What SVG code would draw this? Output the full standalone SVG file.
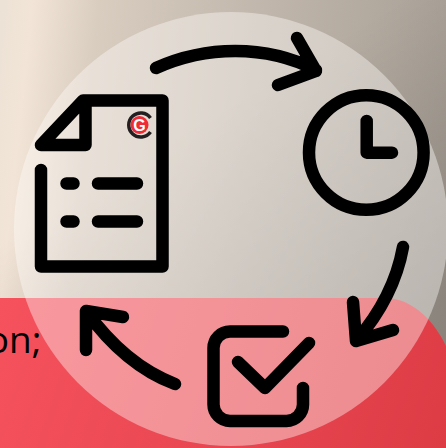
<svg xmlns="http://www.w3.org/2000/svg" width="446" height="448" viewBox="0 0 446 448">
  <style>
    .s{fill:none;stroke:#000;stroke-width:12.5;stroke-linecap:round;stroke-linejoin:round}
  </style>
  <defs>
    <linearGradient id="bg" gradientUnits="userSpaceOnUse" x1="0" y1="40" x2="470" y2="90">
      <stop offset="0" stop-color="#ece2d5"/>
      <stop offset="0.06" stop-color="#f2e5d7"/>
      <stop offset="0.2" stop-color="#d9cdc0"/>
      <stop offset="0.55" stop-color="#c0b6ab"/>
      <stop offset="1" stop-color="#a59d94"/>
    </linearGradient>
    <linearGradient id="shade" gradientUnits="userSpaceOnUse" x1="300" y1="60" x2="446" y2="300">
      <stop offset="0" stop-color="#000" stop-opacity="0"/>
      <stop offset="1" stop-color="#000" stop-opacity="0.16"/>
    </linearGradient>
    <linearGradient id="red" gradientUnits="userSpaceOnUse" x1="0" y1="300" x2="446" y2="448">
      <stop offset="0" stop-color="#f5525e"/>
      <stop offset="1" stop-color="#dd3c45"/>
    </linearGradient>
  </defs>
  <g id="background">
    <rect width="446" height="448" fill="url(#bg)"/>
    <rect width="446" height="448" fill="url(#shade)"/>
    <path d="M0 298H385C410 298 435 318 450 355V448H0Z" fill="url(#red)"/>
    <text x="41.500" y="353" text-anchor="end" font-family="'Open Sans',sans-serif" font-size="37" fill="#000">on;</text>
    <circle cx="231" cy="229" r="217" fill="#fffdfa" fill-opacity="0.41"/>
  </g>
  <g id="connectors">
    <path class="s" d="M156 68C205 46 265 44 316 70M297 38L316 71L278 85"/>
    <path class="s" d="M403 247Q394 297 356 341M353 302L356 341L393 330"/>
    <path class="s" d="M175 384Q125 365 86 311M123 317L86 311L86 350"/>
  </g>
  <g id="document">
    <path class="s" d="M41 170V266.500H162.500V100.500H83L41 145H85.500V100.500"/>
    <path class="s" d="M66.500 183.500H73.500M98 183.500H137M66.500 221.500H73.500M98 221.500H137"/>
    <g id="logo">
      <path d="M150.500 118A12 12 0 1 0 150.500 132" fill="none" stroke="#231f20" stroke-width="3.500"/>
      <circle cx="139.500" cy="125" r="9" fill="#ee2b36"/>
      <text x="139.500" y="130.800" text-anchor="middle" font-family="'Liberation Sans',sans-serif" font-weight="700" font-size="16" fill="#fff">G</text>
    </g>
  </g>
  <g id="clock">
    <circle class="s" cx="366.300" cy="152.500" r="57.300"/>
    <path class="s" d="M366.700 121V152.700H392"/>
  </g>
  <g id="checkbox">
    <path class="s" d="M283 331.500H230A16.500 16.500 0 0 0 213.500 348V404.500A16.500 16.500 0 0 0 230 421H286.500A16.500 16.500 0 0 0 303 404.500V388"/>
    <path class="s" d="M238 362L265 388L309 343"/>
  </g>
</svg>
